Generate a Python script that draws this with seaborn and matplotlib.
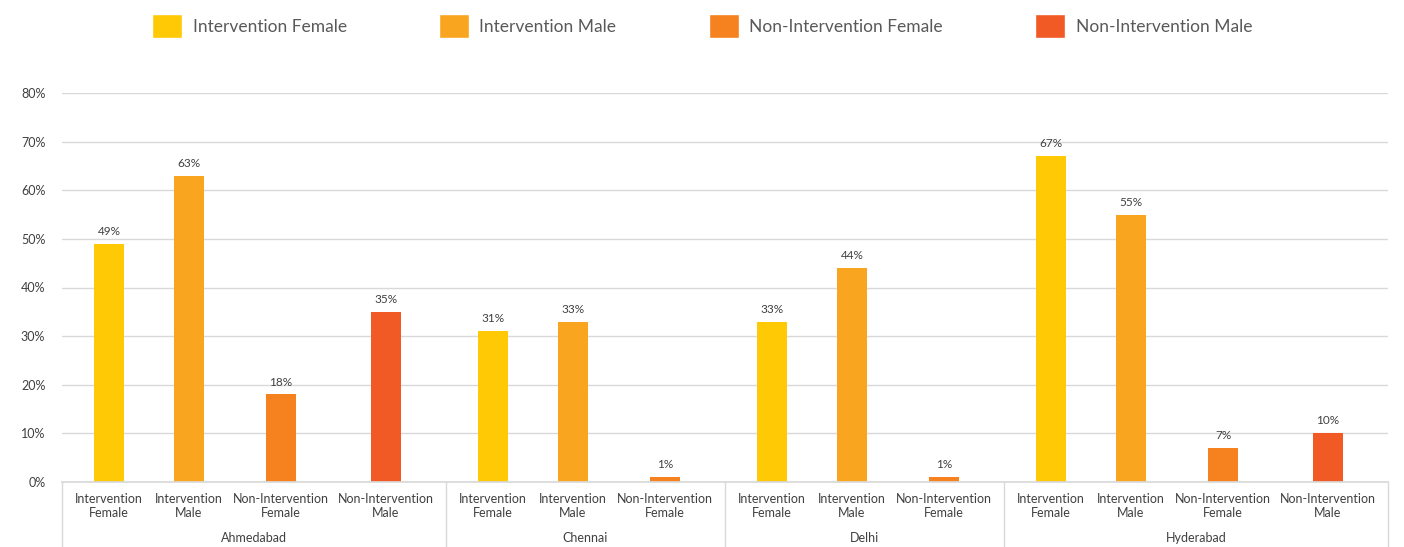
import numpy as np
import pandas as pd
import matplotlib
matplotlib.use("Agg")
import matplotlib.pyplot as plt
from matplotlib.patches import Patch
from matplotlib.ticker import PercentFormatter
import seaborn as sns

# data
cities = ["Ahmedabad", "Chennai", "Delhi", "Hyderabad"]
series = ["Intervention Female", "Intervention Male",
          "Non-Intervention Female", "Non-Intervention Male"]
ahmedabad = [49, 63, 18, 35]
chennai = [31, 33, 1]
delhi = [33, 44, 1]
hyderabad = [67, 55, 7, 10]
tick_labels = ["Intervention\nFemale", "Intervention\nMale",
               "Non-Intervention\nFemale", "Non-Intervention\nMale"]

colors = ["#FFC905", "#F9A51F", "#F5821F", "#F15A25"]
palette = dict(zip(series, colors))

# layout of the two-level category axis (pixel-like units)
group_edges = [0, 384, 663, 942, 1326]
slot_offsets = [47, 127, 219, 324]

rows = []
for city, vals, left in zip(cities, [ahmedabad, chennai, delhi, hyderabad], group_edges):
    for i, v in enumerate(vals):
        rows.append({"city": city, "series": series[i], "value": v / 100,
                     "pos": left + slot_offsets[i], "label": tick_labels[i]})
df = pd.DataFrame(rows)

sns.set_theme(style="white")
plt.rcParams["font.family"] = ["Lato", "DejaVu Sans"]

fig = plt.figure(figsize=(14.04, 5.47), dpi=100)
ax = fig.add_axes([62 / 1404, 1 - 482 / 547, 1326 / 1404, 389 / 547])

sns.barplot(data=df, x="pos", y="value", hue="series", palette=palette,
            native_scale=True, dodge=False, width=30 / 80, errorbar=None,
            saturation=1, linewidth=0, legend=False, ax=ax)

for c in ax.containers:
    ax.bar_label(c, fmt="{:.0%}", padding=5, fontsize=8.5, color="#404040")

ax.set_xlim(group_edges[0], group_edges[-1])
ax.set_ylim(0, 0.8)
ax.set_yticks(np.arange(0, 0.81, 0.1))
ax.yaxis.set_major_formatter(PercentFormatter(1, decimals=0))
ax.yaxis.grid(True, color="#D9D9D9", lw=1)
ax.set_axisbelow(True)
ax.set_xticks(df["pos"], df["label"])
ax.tick_params(axis="x", length=0, pad=8, labelsize=9, labelcolor="#404040")
ax.tick_params(axis="y", length=0, pad=12, labelsize=9, labelcolor="#404040")
ax.set_xlabel("")
ax.set_ylabel("")
for s in ["top", "right", "left"]:
    ax.spines[s].set_visible(False)
ax.spines["bottom"].set_color("#D9D9D9")

# second-level city labels and separators
trans = ax.get_xaxis_transform()
for edge in group_edges:
    ax.plot([edge, edge], [0, -0.17], color="#D9D9D9", lw=1, transform=trans, clip_on=False)
for city, a, b in zip(cities, group_edges[:-1], group_edges[1:]):
    ax.text((a + b) / 2, -0.144, city, transform=trans, ha="center", va="center",
            fontsize=9, color="#404040")

handles = [Patch(facecolor=palette[s], label=s) for s in series]
fig.legend(handles=handles, loc="center", bbox_to_anchor=(0.5, 1 - 26 / 547), ncol=4,
           frameon=False, fontsize=12.5, labelcolor="#595959", handlelength=1.75,
           handleheight=1.75, handletextpad=0.6, columnspacing=5.3)

fig.savefig("out.png", dpi=100)
